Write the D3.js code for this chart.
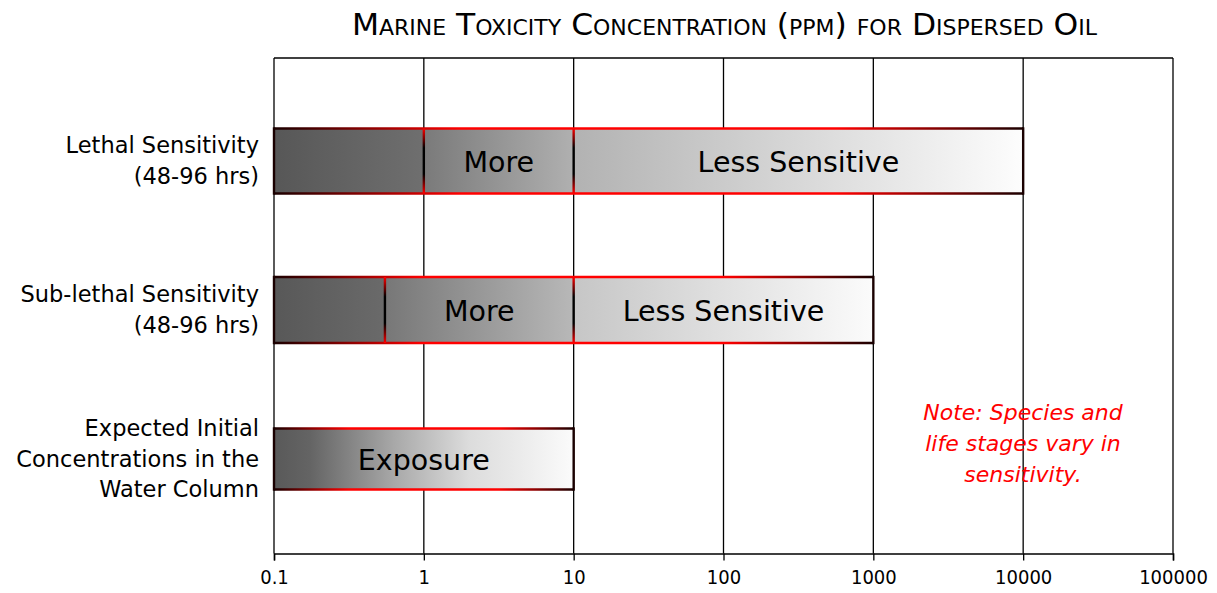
<!DOCTYPE html>
<html><head><meta charset="utf-8">
<script src="https://cdn.jsdelivr.net/npm/d3@7"></script>
<style>body{margin:0;background:#fff;} svg{display:block;}</style>
</head><body>
<svg id="chart" width="1217" height="593"></svg>
<script>
// ---- data ----
const title = "Marine Toxicity Concentration (ppm) for Dispersed Oil";
const categories = ["Lethal", "Sub-lethal", "Exposure"];
const categoryLines = [
  ["Lethal Sensitivity", "(48-96 hrs)"],
  ["Sub-lethal Sensitivity", "(48-96 hrs)"],
  ["Expected Initial", "Concentrations in the", "Water Column"]
];
const lethalBounds = [0.1, 1, 10, 10000];
const subLethalBounds = [0.1, 0.55, 10, 1000];
const exposureBounds = [0.1, 10];
const lethalLabels = ["", "More", "Less Sensitive"];
const subLethalLabels = ["", "More", "Less Sensitive"];
const exposureLabels = ["Exposure"];
const tickValues = [0.1, 1, 10, 100, 1000, 10000, 100000];
const tickLabels = ["0.1", "1", "10", "100", "1000", "10000", "100000"];
const noteLines = ["Note: Species and", "life stages vary in", "sensitivity."];

// ---- styles ----
const segFills = [
  [["#575757", "#6f6f6f"], ["#7a7a7a", "#b0b0b0"], ["#b2b2b2", "#fdfdfd"]],
  [["#585858", "#6a6a6a"], ["#777777", "#b8b8b8"], ["#c6c6c6", "#fbfbfb"]],
  [["#595959", "#fafafa"]]
];
const barHeights = [65, 66, 61];

const svg = d3.select("#chart");
const defs = svg.append("defs");
const x = d3.scaleLog().domain([0.1, 100000]).range([274, 1173]);
const y = d3.scalePoint().domain(categories).range([161, 459]);
const plotTop = 58, axisY = 553.5;

// title
svg.append("text")
  .attr("x", 724.5).attr("y", 35)
  .attr("text-anchor", "middle")
  .attr("font-family", "'DejaVu Sans Condensed', 'DejaVu Sans', sans-serif")
  .attr("font-size", 30)
  .style("font-variant", "small-caps")
  .attr("textLength", 745).attr("lengthAdjust", "spacingAndGlyphs")
  .attr("fill", "#000")
  .text(title);

// frame + grid
const g = svg.append("g");
g.append("line").attr("x1", x(0.1)).attr("x2", x(100000)).attr("y1", plotTop).attr("y2", plotTop)
  .attr("stroke", "#000").attr("stroke-width", 1.5);
g.selectAll(".grid").data(tickValues).enter().append("line")
  .attr("x1", d => x(d)).attr("x2", d => x(d))
  .attr("y1", plotTop).attr("y2", axisY)
  .attr("stroke", "#000").attr("stroke-width", 1.3);

// axis
const axis = d3.axisBottom(x).tickValues(tickValues)
  .tickFormat((d, i) => tickLabels[i]).tickSize(7).tickPadding(9);
const ax = svg.append("g").attr("transform", `translate(0,${axisY})`).call(axis);
ax.select(".domain").attr("stroke", "#000").attr("stroke-width", 1.5);
ax.selectAll(".tick line").attr("stroke", "#000").attr("stroke-width", 1.3);
ax.selectAll(".tick text").attr("font-family", "'DejaVu Sans Condensed', 'DejaVu Sans', sans-serif")
  .attr("font-size", 20).attr("fill", "#000");

// bars
const bars = [
  {cat: categories[0], bounds: lethalBounds, labels: lethalLabels},
  {cat: categories[1], bounds: subLethalBounds, labels: subLethalLabels},
  {cat: categories[2], bounds: exposureBounds, labels: exposureLabels}
];
bars.forEach((b, bi) => {
  const h = barHeights[bi];
  const y0 = y(b.cat) - h / 2, y1 = y0 + h;
  const xs = x(b.bounds[0]), xe = x(b.bounds[b.bounds.length - 1]);
  const hg = defs.append("linearGradient").attr("id", "hs" + bi)
    .attr("gradientUnits", "userSpaceOnUse").attr("x1", xs).attr("x2", xe).attr("y1", 0).attr("y2", 0);
  [[0, "#1a0000"], [0.25, "#ff0000"], [0.75, "#ff0000"], [1, "#1a0000"]]
    .forEach(s => hg.append("stop").attr("offset", s[0]).attr("stop-color", s[1]));
  const vg = defs.append("linearGradient").attr("id", "vs" + bi)
    .attr("gradientUnits", "userSpaceOnUse").attr("x1", 0).attr("x2", 0).attr("y1", y0).attr("y2", y1);
  [[0, "#ff0000"], [0.3, "#000"], [0.7, "#000"], [1, "#ff0000"]]
    .forEach(s => vg.append("stop").attr("offset", s[0]).attr("stop-color", s[1]));

  const segs = d3.pairs(b.bounds);
  segs.forEach((s, si) => {
    const fid = `f${bi}_${si}`;
    const fg = defs.append("linearGradient").attr("id", fid).attr("x1", 0).attr("x2", 1).attr("y1", 0).attr("y2", 0);
    const cols = segFills[bi][si];
    if (bi === 2) {
      [[0, "#595959"], [0.12, "#646464"], [0.4, "#a8a8a8"], [0.65, "#dcdcdc"], [1, "#fbfbfb"]]
        .forEach(t => fg.append("stop").attr("offset", t[0]).attr("stop-color", t[1]));
    } else {
      fg.append("stop").attr("offset", 0).attr("stop-color", cols[0]);
      fg.append("stop").attr("offset", 1).attr("stop-color", cols[1]);
    }
    svg.append("rect").attr("x", x(s[0])).attr("y", y0)
      .attr("width", x(s[1]) - x(s[0])).attr("height", h)
      .attr("fill", `url(#${fid})`);
  });
  svg.append("line").attr("x1", xs).attr("x2", xe).attr("y1", y0).attr("y2", y0)
    .attr("stroke", `url(#hs${bi})`).attr("stroke-width", 2.4);
  svg.append("line").attr("x1", xs).attr("x2", xe).attr("y1", y1).attr("y2", y1)
    .attr("stroke", `url(#hs${bi})`).attr("stroke-width", 2.4);
  [xs, xe].forEach(xx => svg.append("line").attr("x1", xx).attr("x2", xx).attr("y1", y0 - 1.2).attr("y2", y1 + 1.2)
    .attr("stroke", "#1a0000").attr("stroke-width", 2.4));
  b.bounds.slice(1, -1).forEach(v => svg.append("rect")
    .attr("x", x(v) - 1.2).attr("y", y0).attr("width", 2.4).attr("height", h)
    .attr("fill", `url(#vs${bi})`));
  segs.forEach((s, si) => {
    if (!b.labels[si]) return;
    svg.append("text").attr("x", (x(s[0]) + x(s[1])) / 2).attr("y", y(b.cat) + 10.5)
      .attr("text-anchor", "middle")
      .attr("font-family", "'DejaVu Sans', sans-serif").attr("font-size", 28.5)
      .attr("fill", "#000").text(b.labels[si]);
  });
});

// category labels
categories.forEach((c, i) => {
  const lines = categoryLines[i];
  const lh = 30.5;
  const cy = y(c);
  const t = svg.append("text").attr("text-anchor", "end")
    .attr("font-family", "'DejaVu Sans', sans-serif").attr("font-size", 22.5).attr("fill", "#000");
  lines.forEach((l, li) => {
    t.append("tspan").attr("x", 259)
      .attr("y", cy + (li - (lines.length - 1) / 2) * lh + 7.5)
      .text(l);
  });
});

// note
const nt = svg.append("text").attr("text-anchor", "middle")
  .attr("font-family", "'DejaVu Sans', sans-serif").attr("font-style", "italic")
  .attr("font-size", 22).attr("fill", "#ff0000");
noteLines.forEach((l, i) => nt.append("tspan").attr("x", 1023).attr("y", 420 + i * 31).text(l));
</script>
</body></html>
